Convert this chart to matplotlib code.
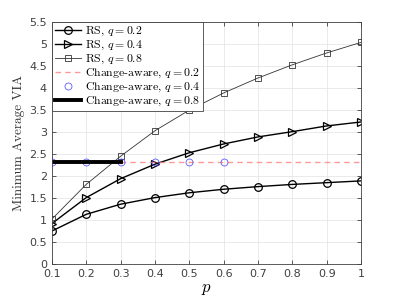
import numpy as np
import matplotlib
matplotlib.use('Agg')
from matplotlib import pyplot as plt

plt.rcParams['mathtext.fontset'] = 'cm'

p = [0.1, 0.2, 0.3, 0.4, 0.5, 0.6, 0.7, 0.8, 0.9, 1.0]
rs_q02 = [0.75, 1.13, 1.36, 1.51, 1.62, 1.70, 1.76, 1.81, 1.85, 1.89]
rs_q04 = [0.92, 1.51, 1.94, 2.27, 2.53, 2.73, 2.89, 3.01, 3.14, 3.23]
rs_q08 = [1.02, 1.81, 2.45, 3.03, 3.50, 3.89, 4.23, 4.53, 4.80, 5.04]

ca_level = 2.33
p_ca02 = [0.1, 1.0]
p_ca04 = [0.1, 0.2, 0.3, 0.4, 0.5, 0.6]
p_ca08 = [0.1, 0.3]

fig = plt.figure(figsize=(3.99, 2.99), dpi=100)
ax = fig.add_axes([0.130, 0.117, 0.775, 0.809])

ax.plot(p, rs_q02, '-o', color='k', lw=1.0, ms=5.5, mfc='none', mew=0.9,
        label=r'RS, $q = 0.2$')
ax.plot(p, rs_q04, '->', color='k', lw=1.0, ms=6, mfc='none', mew=0.9,
        label=r'RS, $q = 0.4$')
ax.plot(p, rs_q08, '-s', color='#333333', lw=0.6, ms=5, mfc='none', mew=0.6,
        label=r'RS, $q = 0.8$')
ax.plot(p_ca02, [ca_level] * len(p_ca02), '--', color='#ff8080', lw=1.0,
        alpha=0.8, dashes=(4, 3), label=r'Change-aware, $q = 0.2$')
ax.plot(p_ca04, [ca_level] * len(p_ca04), 'o', color='#3333ff', ms=5,
        mfc='none', mew=0.6, alpha=0.8, label=r'Change-aware, $q = 0.4$')
ax.plot(p_ca08, [ca_level] * len(p_ca08), '-', color='k', lw=2.8,
        label=r'Change-aware, $q = 0.8$')

ax.set_xlim(0.1, 1)
ax.set_ylim(0, 5.5)
ax.set_xticks(np.arange(0.1, 1.01, 0.1))
ax.set_xticklabels(['0.1', '0.2', '0.3', '0.4', '0.5', '0.6', '0.7', '0.8', '0.9', '1'])
ax.set_yticks(np.arange(0, 5.51, 0.5))
ax.set_yticklabels(['0', '0.5', '1', '1.5', '2', '2.5', '3', '3.5', '4', '4.5', '5', '5.5'])
ax.tick_params(direction='in', top=True, right=True, labelsize=8,
               colors='#404040', length=3, width=0.6)
ax.grid(True, color='#e6e6e6', lw=0.6)
ax.set_axisbelow(True)
for s in ax.spines.values():
    s.set_color('#404040')
    s.set_linewidth(0.6)

ax.set_xlabel(r'$p$', fontsize=12, labelpad=0)
ax.set_ylabel('Minimum Average VIA', family='cmr10', fontsize=9.5,
              color='#333333', labelpad=3)

leg = ax.legend(loc='upper left', prop={'family': 'cmr10', 'size': 8.5},
                fancybox=False, edgecolor='#404040', framealpha=1,
                borderaxespad=0, handlelength=2.2, handletextpad=0.35,
                labelspacing=0.05, borderpad=0.25)
leg.get_frame().set_linewidth(0.6)

fig.savefig('out.png', dpi=100)
